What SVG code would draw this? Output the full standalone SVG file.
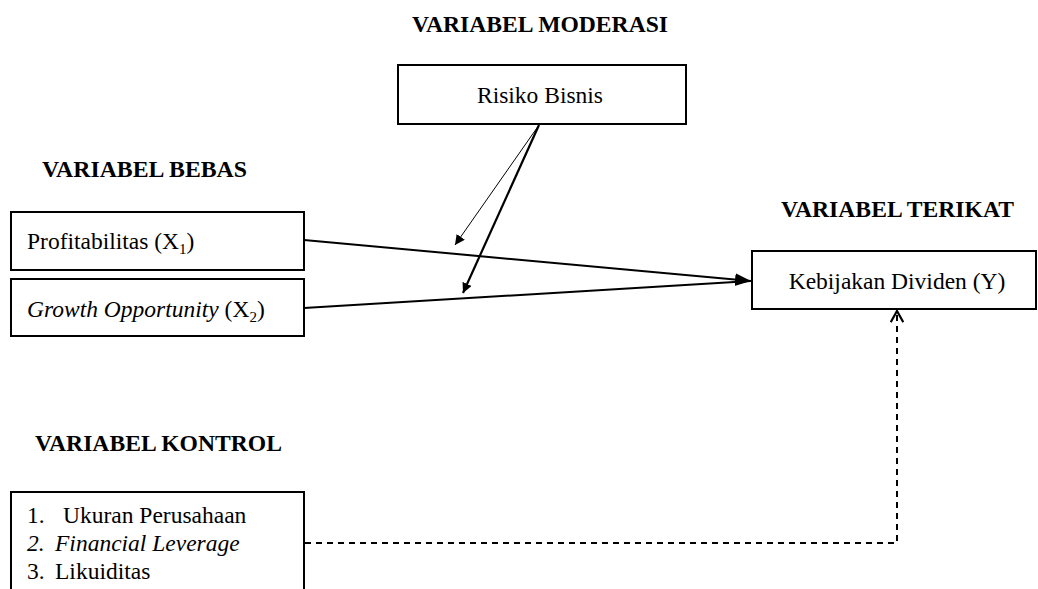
<svg xmlns="http://www.w3.org/2000/svg" width="1038" height="589" viewBox="0 0 1038 589">
<style>
text{font-family:"Liberation Serif","Times New Roman",Times,serif;fill:#000}
.h{font-size:22.5px;font-weight:bold}
.r{font-size:23.5px}
.box{fill:#fff;stroke:#000;stroke-width:2}
.ln{fill:none;stroke:#000}
</style>
<defs>
<marker id="ah" viewBox="0 0 10 10" refX="10" refY="5" markerWidth="10" markerHeight="10" markerUnits="userSpaceOnUse" orient="auto">
<path d="M0,0 L10,5 L0,10 z" fill="#000"/>
</marker>
<marker id="ahb" viewBox="0 0 10 10" refX="10" refY="5" markerWidth="16" markerHeight="16" markerUnits="userSpaceOnUse" orient="auto">
<path d="M0,1 L10,5 L0,9 z" fill="#000"/>
</marker>
<marker id="oa" viewBox="0 0 10 10" refX="9" refY="5" markerWidth="14" markerHeight="14" markerUnits="userSpaceOnUse" orient="auto">
<path d="M1,0.5 L9,5 L1,9.5" fill="none" stroke="#000" stroke-width="1.6"/>
</marker>
</defs>
<g id="titles" font-family="Liberation Serif, serif">
<text class="h" x="412" y="32" textLength="256" lengthAdjust="spacingAndGlyphs">VARIABEL MODERASI</text>
<text class="h" x="42" y="177" textLength="205" lengthAdjust="spacingAndGlyphs">VARIABEL BEBAS</text>
<text class="h" x="781" y="217" textLength="233" lengthAdjust="spacingAndGlyphs">VARIABEL TERIKAT</text>
<text class="h" x="35" y="451" textLength="247" lengthAdjust="spacingAndGlyphs">VARIABEL KONTROL</text>
</g>
<g id="connectors">
<line class="ln" x1="304" y1="240" x2="751" y2="281" stroke-width="2" marker-end="url(#ahb)"/>
<line class="ln" x1="304" y1="308" x2="751" y2="281" stroke-width="2"/>
<line class="ln" x1="539" y1="125" x2="455" y2="245" stroke-width="1" marker-end="url(#ah)"/>
<line class="ln" x1="539" y1="125" x2="463" y2="293" stroke-width="2.2" marker-end="url(#ah)"/>
<polyline class="ln" points="305,543 897,543 897,311" stroke-width="2" stroke-dasharray="6,5" marker-end="url(#oa)"/>
</g>
<g id="node-risiko" font-family="Liberation Serif, serif">
<rect class="box" x="398" y="65" width="288" height="59"/>
<text class="r" x="540" y="103" text-anchor="middle">Risiko Bisnis</text>
</g>
<g id="node-x1" font-family="Liberation Serif, serif">
<rect class="box" x="11" y="212" width="293" height="58"/>
<text class="r" x="27" y="249">Profitabilitas (X<tspan font-size="15" dy="5">1</tspan><tspan dy="-5">)</tspan></text>
</g>
<g id="node-x2" font-family="Liberation Serif, serif">
<rect class="box" x="11" y="279" width="293" height="57"/>
<text class="r" x="27" y="317"><tspan font-style="italic">Growth Opportunity</tspan> (X<tspan font-size="15" dy="5">2</tspan><tspan dy="-5">)</tspan></text>
</g>
<g id="node-y" font-family="Liberation Serif, serif">
<rect class="box" x="752" y="251" width="284" height="58"/>
<text class="r" x="897" y="289" text-anchor="middle">Kebijakan Dividen (Y)</text>
</g>
<g id="node-kontrol" font-family="Liberation Serif, serif">
<rect class="box" x="11" y="492" width="293" height="110"/>
<text class="r" x="27" y="523">1.</text>
<text class="r" x="63" y="523">Ukuran Perusahaan</text>
<text class="r" x="27" y="551" font-style="italic">2.</text>
<text class="r" x="55" y="551" font-style="italic">Financial Leverage</text>
<text class="r" x="27" y="579">3.</text>
<text class="r" x="55" y="579">Likuiditas</text>
</g>
</svg>
